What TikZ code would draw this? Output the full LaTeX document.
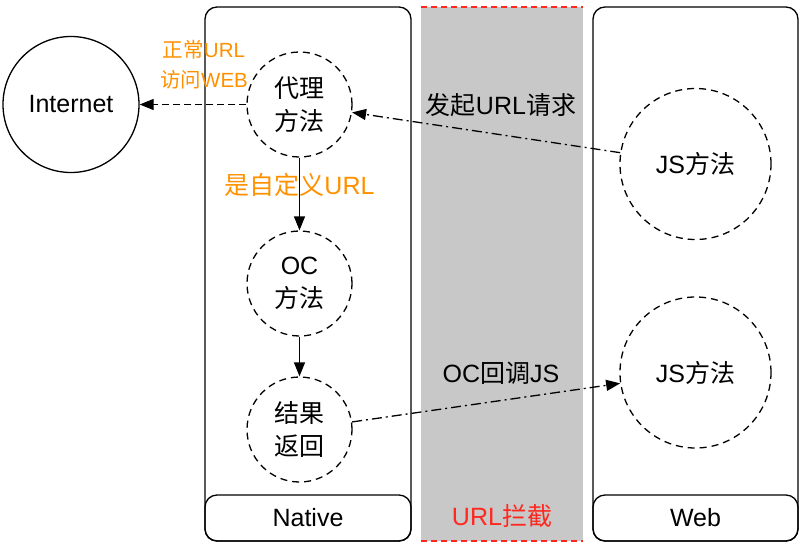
\documentclass[tikz,border=0pt]{standalone}
\usepackage{fontspec}
\setmainfont{Liberation Sans}
\newfontfamily\cjk{Noto Sans CJK SC}
\newcommand\zh[1]{{\cjk #1}}
\usetikzlibrary{arrows.meta}
\definecolor{orng}{RGB}{255,145,0}
\definecolor{redl}{RGB}{255,40,30}
\definecolor{band}{RGB}{200,200,200}
\tikzset{
  lw/.style={line width=1.3pt},
  big/.style={font=\fontsize{25}{33}\selectfont},
  small/.style={font=\fontsize{20.5}{30}\selectfont},
  dcirc/.style={circle,draw,lw,dash pattern=on 7pt off 5pt,inner sep=0pt,align=center,big},
  scirc/.style={circle,draw,lw,inner sep=0pt,align=center,big},
  lane/.style={draw,lw,rounded corners=12pt},
  tip/.style={-{Triangle[length=14pt,width=11pt]}},
  dashln/.style={lw,dash pattern=on 7pt off 4pt},
  dashdot/.style={lw,dash pattern=on 10pt off 4pt on 2pt off 4pt},
  lbl/.style={inner sep=0pt,align=center}
}
\begin{document}
\begin{tikzpicture}[x=1pt,y=-1pt]
\useasboundingbox (0,0) rectangle (804,544);
% grey band
\fill[band] (421,7) rectangle (583,541);
\draw[redl,lw,dash pattern=on 6pt off 4pt] (421,7) -- (583,7);
\draw[redl,lw,dash pattern=on 6pt off 4pt] (421,541) -- (583,541);
% lanes
\draw[lane] (205,7) rectangle (411,541);
\draw[lane] (205,495) rectangle (411,541);
\draw[lane] (593,7) rectangle (798,541);
\draw[lane] (593,495) rectangle (798,541);
\node[lbl,big] (native) at (308,518) {Native};
\node[lbl,big] (web) at (695.5,518) {Web};
\node[lbl,big,text=redl] (intercept) at (502,516) {URL\zh{拦截}};
% nodes
\node[scirc,minimum size=136pt] (inet) at (71,104.5) {Internet};
\node[dcirc,minimum size=105pt] (proxy) at (299.5,104.5) {\zh{代理}\\\zh{方法}};
\node[dcirc,minimum size=105pt] (oc) at (299.5,283.5) {OC\\\zh{方法}};
\node[dcirc,minimum size=105pt] (res) at (299.5,429.5) {\zh{结果}\\\zh{返回}};
\node[dcirc,minimum size=151pt] (js1) at (695.5,164) {JS\zh{方法}};
\node[dcirc,minimum size=151pt] (js2) at (695.5,372.5) {JS\zh{方法}};
% connectors
\draw[dashln,tip] (proxy) -- (inet);
\draw[lw,tip] (proxy) -- (oc);
\draw[lw,tip] (oc) -- (res);
\draw[dashdot,tip] (js1) -- (proxy);
\draw[dashdot,tip] (res) -- (js2);
% labels
\node[lbl,small,text=orng] (normal) at (204,65) {\zh{正常}URL\\\zh{访问}WEB};
\node[lbl,big,text=orng] (custom) at (299.5,185) {\zh{是自定义}URL};
\node[lbl,big] (req) at (501,105) {\zh{发起}URL\zh{请求}};
\node[lbl,big] (cb) at (501,373) {OC\zh{回调}JS};
\end{tikzpicture}
\end{document}
